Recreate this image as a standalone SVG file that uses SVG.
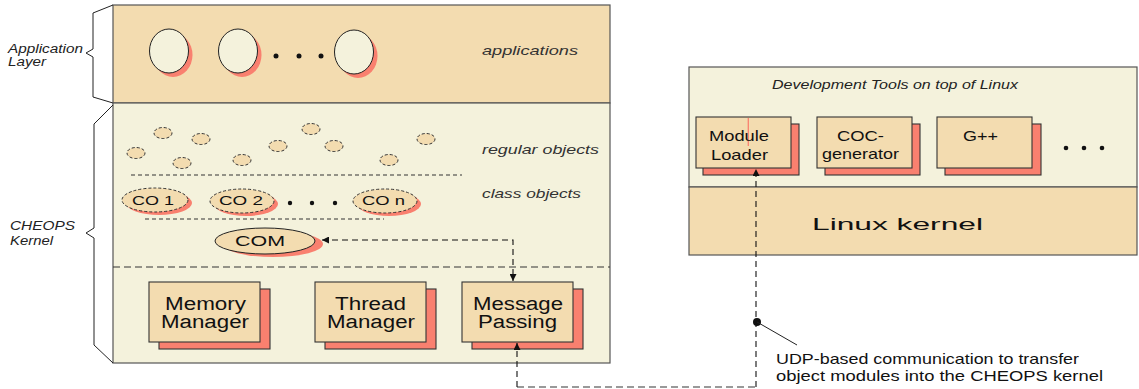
<svg xmlns="http://www.w3.org/2000/svg" width="1139" height="389" viewBox="0 0 1139 389">
<style>
text{font-family:"Liberation Sans",Arial,sans-serif;fill:#111;}
.it{font-style:italic;font-size:12px;fill:#222;}
.lbl{font-style:italic;font-size:13px;fill:#333;}
.big{font-size:18px;}
.mid{font-size:14.5px;}
.tan{fill:#F3DCB0;}
.cream{fill:#F4F2DC;}
.panel{stroke:#555;stroke-width:1.2;}
.box{fill:#F3DCB0;stroke:#333;stroke-width:1.1;}
.shadow{fill:#F9806F;stroke:#333;stroke-width:1.1;}
.shd{fill:#F9806F;stroke:none;}
.app{fill:#F4F2DC;stroke:#222;stroke-width:1;}
.reg{fill:#F3DCB0;stroke:#333;stroke-width:1;stroke-dasharray:3 2;}
.sep{stroke:#333;stroke-width:1;fill:none;}
.brace{fill:none;stroke:#222;stroke-width:1;}
.dot{fill:#111;}
.conn{fill:none;stroke:#111;stroke-width:1.1;stroke-dasharray:6 4;}
.gray{fill:none;stroke:#999;stroke-width:2.2;stroke-dasharray:7 4;}
</style>
<defs>
<marker id="arr" viewBox="0 0 10 10" refX="10" refY="5" markerWidth="7" markerHeight="7" markerUnits="userSpaceOnUse" orient="auto-start-reverse">
<path d="M0,0 L10,5 L0,10 z" fill="#111"/>
</marker>
</defs>

<!-- Application layer -->
<g id="application-layer">
<rect x="113" y="5" width="497" height="98" class="tan panel"/>
<path class="brace" d="M113,5 L93,13 V49 L86,53 L93,57 V97 L113,103"/>
<text class="it" x="8" y="53" textLength="75" lengthAdjust="spacingAndGlyphs">Application</text>
<text class="it" x="8" y="66" textLength="38" lengthAdjust="spacingAndGlyphs">Layer</text>
<ellipse cx="173" cy="55" rx="19.5" ry="22" class="shd" stroke="#222" stroke-width="1"/>
<ellipse cx="169" cy="51" rx="19.5" ry="22" class="app"/>
<ellipse cx="242" cy="55" rx="19.5" ry="22" class="shd" stroke="#222" stroke-width="1"/>
<ellipse cx="238" cy="51" rx="19.5" ry="22" class="app"/>
<ellipse cx="358" cy="56" rx="19.5" ry="22" class="shd" stroke="#222" stroke-width="1"/>
<ellipse cx="354" cy="52" rx="19.5" ry="22" class="app"/>
<circle cx="276" cy="56" r="2.5" class="dot"/>
<circle cx="299" cy="56" r="2.5" class="dot"/>
<circle cx="321" cy="56" r="2.5" class="dot"/>
<text class="lbl" x="482" y="55" textLength="96" lengthAdjust="spacingAndGlyphs">applications</text>
</g>

<!-- CHEOPS kernel -->
<g id="cheops-kernel">
<rect x="113" y="103" width="497" height="260" class="cream panel"/>
<path class="brace" d="M113,105 L94,124 V228 L86,233 L94,238 V345 L113,363"/>
<text class="it" x="10" y="230" textLength="65" lengthAdjust="spacingAndGlyphs">CHEOPS</text>
<text class="it" x="10" y="245" textLength="43" lengthAdjust="spacingAndGlyphs">Kernel</text>
<line x1="113" y1="267" x2="610" y2="267" class="sep" stroke-dasharray="7 4"/>
</g>

<g id="regular-objects">
<ellipse cx="136" cy="153" rx="9" ry="5.5" class="reg"/>
<ellipse cx="163" cy="133" rx="9" ry="5.5" class="reg"/>
<ellipse cx="182" cy="163" rx="9" ry="5.5" class="reg"/>
<ellipse cx="201" cy="139" rx="9" ry="5.5" class="reg"/>
<ellipse cx="242" cy="160" rx="9" ry="5.5" class="reg"/>
<ellipse cx="278" cy="146" rx="9" ry="5.5" class="reg"/>
<ellipse cx="311" cy="129" rx="9" ry="5.5" class="reg"/>
<ellipse cx="334" cy="146" rx="9" ry="5.5" class="reg"/>
<ellipse cx="389" cy="160" rx="9" ry="5.5" class="reg"/>
<ellipse cx="426" cy="139" rx="9" ry="5.5" class="reg"/>
<text class="lbl" x="482" y="154" textLength="117" lengthAdjust="spacingAndGlyphs">regular objects</text>
<line x1="131" y1="175" x2="462" y2="175" class="sep" stroke-dasharray="4 3"/>
</g>

<g id="class-objects">
<g id="co1">
<ellipse cx="159" cy="203" rx="33" ry="12" class="shd"/>
<ellipse cx="155" cy="200" rx="33" ry="12" class="reg"/>
<text x="132" y="205" font-size="13" textLength="42" lengthAdjust="spacingAndGlyphs">CO 1</text>
</g>
<g id="co2">
<ellipse cx="246" cy="204" rx="32" ry="12" class="shd"/>
<ellipse cx="242" cy="201" rx="32" ry="12" class="reg"/>
<text x="219" y="205" font-size="13" textLength="44" lengthAdjust="spacingAndGlyphs">CO 2</text>
</g>
<circle cx="290" cy="203" r="2.2" class="dot"/>
<circle cx="312" cy="203" r="2.2" class="dot"/>
<circle cx="335" cy="203" r="2.2" class="dot"/>
<g id="con">
<ellipse cx="389" cy="204" rx="32" ry="12" class="shd"/>
<ellipse cx="385" cy="201" rx="32" ry="12" class="reg"/>
<text x="362" y="205" font-size="13" textLength="43" lengthAdjust="spacingAndGlyphs">CO n</text>
</g>
<text class="lbl" x="482" y="198" textLength="99" lengthAdjust="spacingAndGlyphs">class objects</text>
<line x1="145" y1="219" x2="384" y2="219" class="sep" stroke-dasharray="4 3"/>
</g>

<g id="com">
<ellipse cx="273" cy="244" rx="50" ry="13" class="shd"/>
<ellipse cx="265" cy="241" rx="50" ry="13" fill="#F3DCB0" stroke="#222" stroke-width="1"/>
<text x="235" y="246" font-size="15" textLength="50" lengthAdjust="spacingAndGlyphs">COM</text>
</g>

<g id="memory-manager">
<rect x="159" y="289" width="111" height="60" class="shadow"/>
<rect x="149" y="282" width="111" height="60" class="box"/>
<text class="big" x="165" y="310" textLength="81" lengthAdjust="spacingAndGlyphs">Memory</text>
<text class="big" x="161" y="328" textLength="88" lengthAdjust="spacingAndGlyphs">Manager</text>
</g>
<g id="thread-manager">
<rect x="325" y="289" width="111" height="60" class="shadow"/>
<rect x="315" y="282" width="111" height="60" class="box"/>
<text class="big" x="335" y="310" textLength="71" lengthAdjust="spacingAndGlyphs">Thread</text>
<text class="big" x="327" y="328" textLength="88" lengthAdjust="spacingAndGlyphs">Manager</text>
</g>
<g id="message-passing">
<rect x="472" y="289" width="111" height="60" class="shadow"/>
<rect x="462" y="282" width="111" height="60" class="box"/>
<text class="big" x="473" y="310" textLength="90" lengthAdjust="spacingAndGlyphs">Message</text>
<text class="big" x="478" y="328" textLength="79" lengthAdjust="spacingAndGlyphs">Passing</text>
</g>

<!-- Linux side -->
<g id="dev-tools">
<rect x="689" y="67" width="448" height="120" class="cream panel"/>
<text class="it" x="772" y="89" font-size="12.5" textLength="246" lengthAdjust="spacingAndGlyphs">Development Tools on top of Linux</text>
<circle cx="1066" cy="148" r="2.3" class="dot"/>
<circle cx="1084" cy="148" r="2.3" class="dot"/>
<circle cx="1102" cy="148" r="2.3" class="dot"/>
</g>
<g id="linux-kernel">
<rect x="689" y="187" width="448" height="68" class="tan panel"/>
<text x="812" y="230" font-size="17" textLength="171" lengthAdjust="spacingAndGlyphs">Linux kernel</text>
</g>
<g id="module-loader">
<rect x="703" y="124" width="96" height="51" class="shadow"/>
<rect x="696" y="117" width="95" height="51" class="box"/>
<line x1="748.3" y1="118" x2="748.3" y2="146" stroke="#F9806F" stroke-width="1.3"/>
<text class="mid" x="709" y="141" textLength="60" lengthAdjust="spacingAndGlyphs">Module</text>
<text class="mid" x="711" y="160" textLength="57" lengthAdjust="spacingAndGlyphs">Loader</text>
</g>
<g id="coc-generator">
<rect x="825" y="124" width="95" height="51" class="shadow"/>
<rect x="817" y="117" width="95" height="51" class="box"/>
<text class="mid" x="837" y="141" textLength="47" lengthAdjust="spacingAndGlyphs">COC-</text>
<text class="mid" x="822" y="159" textLength="77" lengthAdjust="spacingAndGlyphs">generator</text>
</g>
<g id="gpp">
<rect x="945" y="124" width="96" height="51" class="shadow"/>
<rect x="937" y="117" width="95" height="51" class="box"/>
<text class="mid" x="963" y="141" textLength="35" lengthAdjust="spacingAndGlyphs">G++</text>
</g>

<g id="note">
<text x="776" y="364" font-size="14.5" textLength="303" lengthAdjust="spacingAndGlyphs">UDP-based communication to transfer</text>
<text x="776" y="381" font-size="14.5" textLength="327" lengthAdjust="spacingAndGlyphs">object modules into the CHEOPS kernel</text>
</g>

<g id="connectors">
<path class="conn" d="M322,240 H513 V281" marker-start="url(#arr)" marker-end="url(#arr)"/>
<path class="conn" d="M756,387 V169" marker-end="url(#arr)"/>
<path class="gray" d="M755,387 H517"/>
<path class="conn" d="M517,387 V343" marker-end="url(#arr)"/>
<circle cx="757" cy="322" r="4" class="dot"/>
<line x1="757" y1="322" x2="797" y2="345" stroke="#222" stroke-width="1"/>
</g>
</svg>
